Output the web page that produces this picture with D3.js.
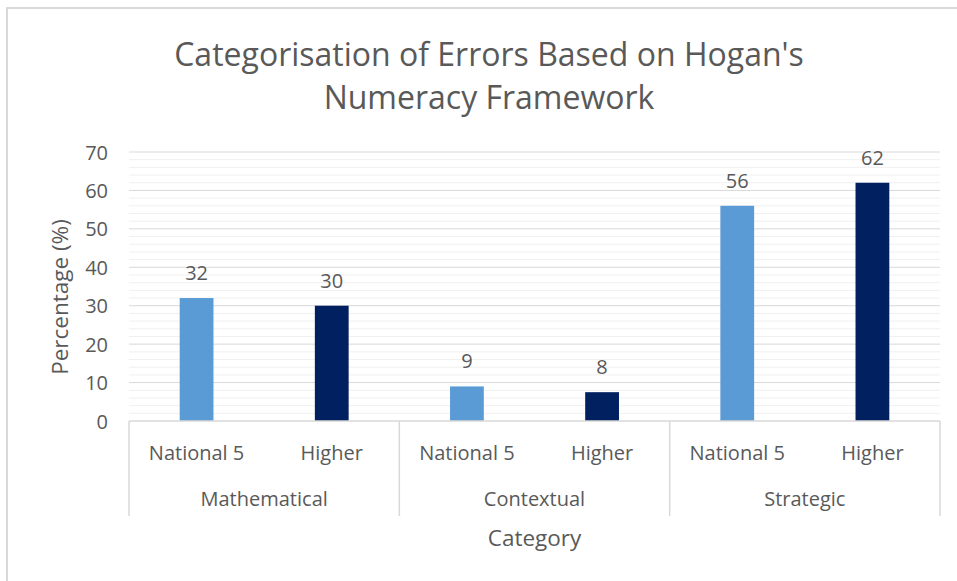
<!DOCTYPE html>
<html>
<head>
<meta charset="utf-8">
<script src="https://cdn.jsdelivr.net/npm/d3@7"></script>
<style>
  html, body { margin: 0; padding: 0; background: #ffffff; }
  svg { display: block; }
  text { font-family: "Open Sans", Lato, sans-serif; fill: #595959; }
</style>
</head>
<body>
<svg id="chart" width="957" height="581"></svg>
<script>
const categories = ["Mathematical", "Contextual", "Strategic"];
const levels = ["National 5", "Higher"];
const national5 = [32, 9, 56];
const higher = [30, 7.5, 62];
const yTicks = [0, 10, 20, 30, 40, 50, 60, 70];
const titleLines = ["Categorisation of Errors Based on Hogan's", "Numeracy Framework"];
const xTitle = "Category";
const yTitle = "Percentage (%)";
const colors = { "National 5": "#5B9BD5", "Higher": "#002060" };

const svg = d3.select("#chart");
const W = 957, H = 581;
const plot = { left: 129, right: 940, top: 152, bottom: 421 };
const FONT = "'Open Sans', Lato, sans-serif";

// outer frame
svg.append("path")
  .attr("d", `M7,${H} L7,8 L${W},8`)
  .attr("fill", "none").attr("stroke", "#d9d9d9").attr("stroke-width", 2);

const y = d3.scaleLinear().domain([0, 70]).range([plot.bottom, plot.top]);
const xGroup = d3.scaleBand().domain(categories).range([plot.left, plot.right]).padding(0);
const xSub = d3.scaleBand().domain(levels).range([0, xGroup.bandwidth()]).padding(0);
const barW = xSub.bandwidth() * 0.25;

// minor gridlines
const minor = y.ticks(35).filter(v => v % 10 !== 0);
svg.append("g").selectAll("line").data(minor).join("line")
  .attr("x1", plot.left).attr("x2", plot.right)
  .attr("y1", d => y(d)).attr("y2", d => y(d))
  .attr("stroke", "#f0f0f0").attr("stroke-width", 1);

// major gridlines
svg.append("g").selectAll("line").data(yTicks.filter(v => v > 0)).join("line")
  .attr("x1", plot.left).attr("x2", plot.right)
  .attr("y1", d => y(d)).attr("y2", d => y(d))
  .attr("stroke", "#d9d9d9").attr("stroke-width", 1);

// y axis labels
const yAxis = d3.axisLeft(y).tickValues(yTicks).tickSize(0).tickPadding(0);
const gy = svg.append("g").attr("transform", `translate(108,0)`).call(yAxis);
gy.select(".domain").remove();
gy.selectAll("text")
  .style("font-family", FONT)
  .style("font-size", "20px").attr("fill", "#595959").attr("dy", "0.35em");

// bars
const rows = [];
categories.forEach((c, i) => {
  rows.push({ cat: c, level: "National 5", value: national5[i] });
  rows.push({ cat: c, level: "Higher", value: higher[i] });
});

svg.append("g").selectAll("rect").data(rows).join("rect")
  .attr("x", d => xGroup(d.cat) + xSub(d.level) + (xSub.bandwidth() - barW) / 2)
  .attr("width", barW)
  .attr("y", d => y(d.value))
  .attr("height", d => y(0) - y(d.value))
  .attr("fill", d => colors[d.level]);

// data labels
svg.append("g").selectAll("text").data(rows).join("text")
  .attr("x", d => xGroup(d.cat) + xSub(d.level) + xSub.bandwidth() / 2)
  .attr("y", d => y(d.value) - 18)
  .attr("text-anchor", "middle")
  .style("font-size", "20px")
  .text(d => d3.format(".0f")(d.value));

// category axis line
svg.append("line")
  .attr("x1", plot.left).attr("x2", plot.right)
  .attr("y1", plot.bottom).attr("y2", plot.bottom)
  .attr("stroke", "#d9d9d9").attr("stroke-width", 1.5);

// group separators
const bounds = categories.map(c => xGroup(c)).concat([plot.right]);
svg.append("g").selectAll("line").data(bounds).join("line")
  .attr("x1", d => d).attr("x2", d => d)
  .attr("y1", plot.bottom).attr("y2", 516)
  .attr("stroke", "#d9d9d9").attr("stroke-width", 1.5);

// sub labels
svg.append("g").selectAll("text").data(rows).join("text")
  .attr("x", d => xGroup(d.cat) + xSub(d.level) + xSub.bandwidth() / 2)
  .attr("y", 460)
  .attr("text-anchor", "middle")
  .style("font-size", "20px")
  .text(d => d.level);

// group labels
svg.append("g").selectAll("text").data(categories).join("text")
  .attr("x", d => xGroup(d) + xGroup.bandwidth() / 2)
  .attr("y", 506)
  .attr("text-anchor", "middle")
  .style("font-size", "20px")
  .text(d => d);

// axis titles
svg.append("text")
  .attr("x", (plot.left + plot.right) / 2).attr("y", 546)
  .attr("text-anchor", "middle").style("font-size", "22.5px")
  .text(xTitle);

svg.append("text")
  .attr("transform", `translate(68,297) rotate(-90)`)
  .attr("text-anchor", "middle").style("font-size", "22.5px")
  .text(yTitle);

// title
svg.append("g").selectAll("text").data(titleLines).join("text")
  .attr("x", 489).attr("y", (d, i) => 66 + i * 43)
  .attr("text-anchor", "middle").style("font-size", "32px")
  .text(d => d);
</script>
</body>
</html>
